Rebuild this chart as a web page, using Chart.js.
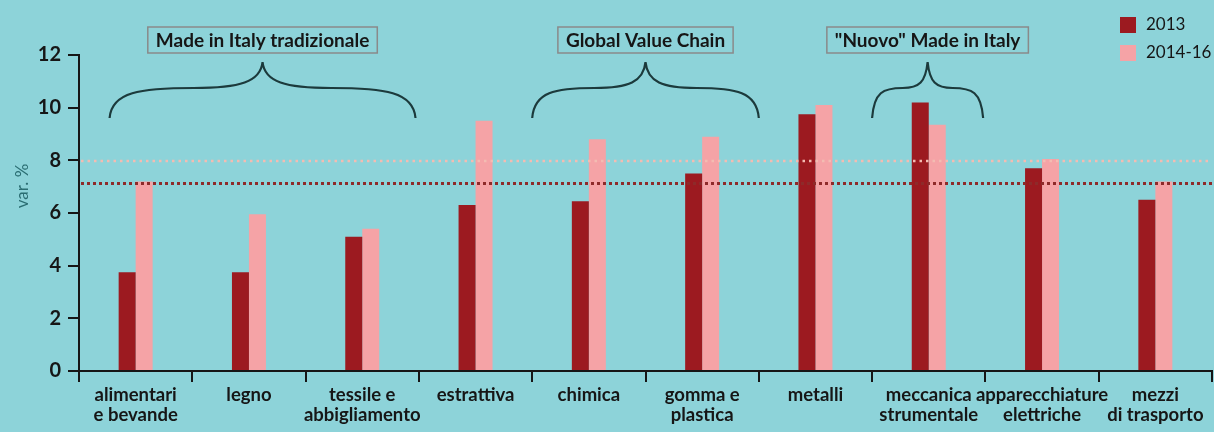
<!DOCTYPE html>
<html>
<head>
<meta charset="utf-8">
<script src="https://cdn.jsdelivr.net/npm/chart.js@4.4.1/dist/chart.umd.min.js"></script>
<style>
  html, body { margin: 0; padding: 0; background: #8dd3d9; }
  #wrap { width: 1214px; height: 432px; position: relative; }
</style>
</head>
<body>
<div id="wrap"><canvas id="chart"></canvas></div>
<script>
// data
var categories = [
  ['alimentari', 'e bevande'], 'legno', ['tessile e', 'abbigliamento'], 'estrattiva', 'chimica',
  ['gomma e', 'plastica'], 'metalli', ['meccanica', 'strumentale'], ['apparecchiature', 'elettriche'],
  ['mezzi', 'di trasporto']
];
var seriesLabels = ['2013', '2014-16'];
var values2013 = [3.75, 3.75, 5.1, 6.3, 6.45, 7.5, 9.75, 10.2, 7.7, 6.5];
var values2014 = [7.2, 5.95, 5.4, 9.5, 8.8, 8.9, 10.1, 9.35, 8.05, 7.2];
var avg2013 = 7.15;
var avg2014 = 7.98;
var yTicks = [0, 2, 4, 6, 8, 10, 12];
var axisTitle = 'var. %';
var groupLabels = ['Made in Italy tradizionale', 'Global Value Chain', '"Nuovo" Made in Italy'];
var groupFrom = [-0.23, 3.5, 6.5];
var groupTo = [2.47, 5.5, 7.48];

var DARK = '#9c1a20';
var PINK = '#f5a3a6';
var INK = '#161616';
var FONT = 'Lato, "Open Sans", sans-serif';

var overlays = {
  id: 'overlays',
  afterDatasetsDraw: function (chart) {
    var ctx = chart.ctx;
    var area = chart.chartArea;
    var x = chart.scales.x, y = chart.scales.y;

    // average lines (dotted)
    ctx.save();
    ctx.strokeStyle = '#f3bcb2';
    ctx.lineWidth = 2.5;
    ctx.setLineDash([2.5, 4]);
    ctx.beginPath();
    var yp = Math.round(y.getPixelForValue(avg2014));
    ctx.moveTo(area.left + 2, yp); ctx.lineTo(area.right, yp);
    ctx.stroke();
    ctx.strokeStyle = '#8e2a2a';
    ctx.lineWidth = 3;
    ctx.setLineDash([3, 3]);
    ctx.beginPath();
    yp = Math.round(y.getPixelForValue(avg2013)) + 0.5;
    ctx.moveTo(area.left + 2, yp); ctx.lineTo(area.right, yp);
    ctx.stroke();
    ctx.restore();

    // braces and group boxes
    ctx.save();
    ctx.strokeStyle = '#1c3a3c';
    ctx.lineWidth = 2.2;
    var yTip = area.top + 7, yMid = area.top + 33, yEnd = area.top + 63;
    for (var i = 0; i < groupLabels.length; i++) {
      var x1 = x.getPixelForValue(groupFrom[i]);
      var x2 = x.getPixelForValue(groupTo[i]);
      var xm = (x1 + x2) / 2;
      var hw = xm - x1;
      ctx.beginPath();
      ctx.moveTo(x1, yEnd);
      ctx.bezierCurveTo(x1 + 2, yMid + 4, x1 + hw * 0.2, yMid, x1 + hw * 0.55, yMid);
      ctx.bezierCurveTo(xm - hw * 0.15, yMid, xm - 2, yMid - 6, xm, yTip);
      ctx.moveTo(x2, yEnd);
      ctx.bezierCurveTo(x2 - 2, yMid + 4, x2 - hw * 0.2, yMid, x2 - hw * 0.55, yMid);
      ctx.bezierCurveTo(xm + hw * 0.15, yMid, xm + 2, yMid - 6, xm, yTip);
      ctx.stroke();

      ctx.font = 'bold 19px ' + FONT;
      var tw = ctx.measureText(groupLabels[i]).width;
      var bw = tw + 16, bh = 26, by = area.top - 28;
      ctx.save();
      ctx.strokeStyle = '#8a8a8a';
      ctx.lineWidth = 1.5;
      ctx.strokeRect(xm - bw / 2, by, bw, bh);
      ctx.restore();
      ctx.fillStyle = INK;
      ctx.textAlign = 'center';
      ctx.textBaseline = 'middle';
      ctx.fillText(groupLabels[i], xm, by + bh / 2 + 1);
    }
    ctx.restore();

    // y axis title
    ctx.save();
    ctx.translate(23, 186);
    ctx.rotate(-Math.PI / 2);
    ctx.font = '17px ' + FONT;
    ctx.fillStyle = '#2a6d72';
    ctx.textAlign = 'center';
    ctx.textBaseline = 'middle';
    ctx.fillText(axisTitle, 0, 0);
    ctx.restore();

    // legend
    ctx.save();
    var colors = [DARK, PINK];
    ctx.font = '17px ' + FONT;
    ctx.textAlign = 'left';
    ctx.textBaseline = 'middle';
    for (var k = 0; k < seriesLabels.length; k++) {
      var ly = 17 + k * 28;
      ctx.fillStyle = colors[k];
      ctx.fillRect(1120, ly, 16, 16);
      ctx.fillStyle = INK;
      ctx.fillText(seriesLabels[k], 1146, ly + 8);
    }
    ctx.restore();
  }
};

new Chart(document.getElementById('chart'), {
  type: 'bar',
  data: {
    labels: categories,
    datasets: [
      { label: seriesLabels[0], data: values2013, backgroundColor: DARK },
      { label: seriesLabels[1], data: values2014, backgroundColor: PINK }
    ]
  },
  options: {
    responsive: true,
    maintainAspectRatio: false,
    animation: false,
    layout: { padding: { top: 55, right: 2, left: 0, bottom: 0 } },
    datasets: { bar: { categoryPercentage: 0.3, barPercentage: 1.0, borderWidth: 0 } },
    plugins: { legend: { display: false }, tooltip: { enabled: false } },
    scales: {
      x: {
        offset: true,
        afterFit: function (s) { s.height = 61; },
        grid: { offset: true, drawOnChartArea: false, drawTicks: true, tickLength: 11, color: INK, lineWidth: 2 },
        border: { display: true, color: INK, width: 2 },
        ticks: {
          color: INK, padding: 3, maxRotation: 0, autoSkip: false,
          font: { family: FONT, size: 18.5, weight: 'bold', lineHeight: 1.08 }
        }
      },
      y: {
        min: 0, max: 12,
        afterFit: function (s) { s.width = 79; },
        afterBuildTicks: function (s) { s.ticks = yTicks.map(function (v) { return { value: v }; }); },
        grid: { drawOnChartArea: false, drawTicks: true, tickLength: 11, color: INK, lineWidth: 2 },
        border: { display: true, color: INK, width: 2 },
        ticks: { color: INK, padding: 7, font: { family: FONT, size: 20, weight: 'bold' } },
        title: { display: false }
      }
    }
  },
  plugins: [overlays]
});
</script>
</body>
</html>
